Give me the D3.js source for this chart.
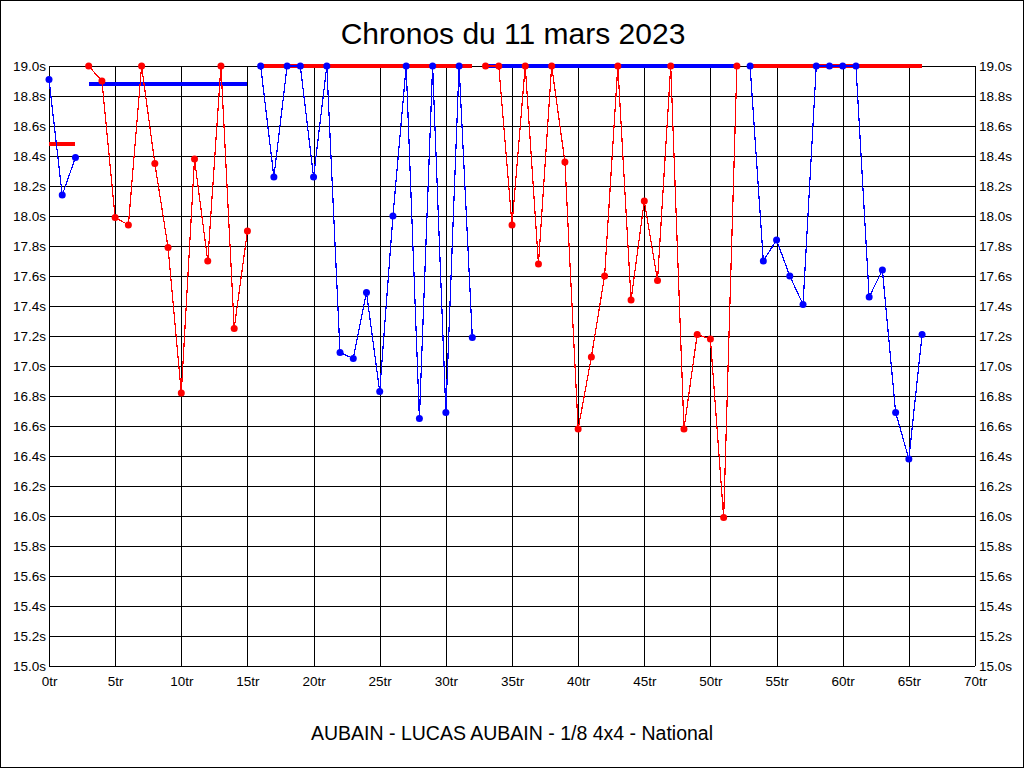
<!DOCTYPE html>
<html>
<head>
<meta charset="utf-8">
<script src="https://cdn.jsdelivr.net/npm/d3@7"></script>
<style>
  html, body { margin: 0; padding: 0; background: #fff; }
  svg { display: block; }
  text { font-family: "Liberation Sans", Arial, sans-serif; fill: #000; }
</style>
</head>
<body>
<svg id="chart" width="1024" height="768"></svg>
<script>
// ---- data ----
const title = "Chronos du 11 mars 2023";
const subtitle = "AUBAIN - LUCAS AUBAIN - 1/8 4x4 - National";

const xTicks = [0, 5, 10, 15, 20, 25, 30, 35, 40, 45, 50, 55, 60, 65, 70];
const yTicks = [15.0, 15.2, 15.4, 15.6, 15.8, 16.0, 16.2, 16.4, 16.6, 16.8, 17.0, 17.2, 17.4, 17.6, 17.8, 18.0, 18.2, 18.4, 18.6, 18.8, 19.0];

// segments: start lap, colour, lap times (values clipped at 19.0s)
const seg1Start = 0;
const seg1Color = "blue";
const seg1Times = [18.91, 18.14, 18.39];

const seg2Start = 3;
const seg2Color = "red";
const seg2Times = [19.0, 18.90, 17.99, 17.94, 19.0, 18.35, 17.79, 16.82, 18.38, 17.70, 19.0, 17.25, 17.90];

const seg3Start = 16;
const seg3Color = "blue";
const seg3Times = [19.0, 18.26, 19.0, 19.0, 18.26, 19.0, 17.09, 17.05, 17.49, 16.83, 18.0, 19.0, 16.65, 19.0, 16.69, 19.0, 17.19];

const seg4Start = 33;
const seg4Color = "red";
const seg4Times = [19.0, 19.0, 17.94, 19.0, 17.68, 19.0, 18.36, 16.58, 17.06, 17.60, 19.0, 17.44, 18.10, 17.57, 19.0, 16.58, 17.21, 17.18, 15.99, 19.0];

const seg5Start = 53;
const seg5Color = "blue";
const seg5Times = [19.0, 17.70, 17.84, 17.60, 17.41, 19.0, 19.0, 19.0, 19.0, 17.46, 17.64, 16.69, 16.38, 17.21];

// segment average lines (drawn in the other colour)
const avgColors = ["red", "blue", "red", "blue", "red"];
const avgValues = [18.48, 18.88, 19.0, 19.0, 19.0];

// ---- chart ----
const svg = d3.select("#chart");
const W = 1024, H = 768;
const mLeft = 49, mRight = 975, mTop = 66, mBottom = 666;

const x = d3.scaleLinear().domain([0, 70]).range([mLeft, mRight]);
const y = d3.scaleLinear().domain([15.0, 19.0]).range([mBottom, mTop]);

svg.append("rect").attr("x", 0.5).attr("y", 0.5).attr("width", W - 1).attr("height", H - 1)
  .attr("fill", "#fff").attr("stroke", "#000").attr("stroke-width", 1);

// grid
const g = svg.append("g").attr("shape-rendering", "crispEdges");
g.selectAll("line.h").data(yTicks).enter().append("line")
  .attr("x1", mLeft).attr("x2", mRight)
  .attr("y1", d => Math.round(y(d)) + 0.5).attr("y2", d => Math.round(y(d)) + 0.5)
  .attr("stroke", "#000").attr("stroke-width", 1);
g.selectAll("line.v").data(xTicks).enter().append("line")
  .attr("y1", mTop).attr("y2", mBottom)
  .attr("x1", d => Math.round(x(d)) + 0.5).attr("x2", d => Math.round(x(d)) + 0.5)
  .attr("stroke", "#000").attr("stroke-width", 1);

// axes labels via d3 axes (no tick lines)
const fmtY = d => d.toFixed(1) + "s";
const leftAxis = svg.append("g").attr("transform", `translate(${mLeft},0)`)
  .call(d3.axisLeft(y).tickValues(yTicks).tickFormat(fmtY).tickSize(0).tickPadding(3));
const rightAxis = svg.append("g").attr("transform", `translate(${mRight},0)`)
  .call(d3.axisRight(y).tickValues(yTicks).tickFormat(fmtY).tickSize(0).tickPadding(4));
const bottomAxis = svg.append("g").attr("transform", `translate(0,${mBottom})`)
  .call(d3.axisBottom(x).tickValues(xTicks).tickFormat(d => d + "tr").tickSize(0).tickPadding(10));
[leftAxis, rightAxis, bottomAxis].forEach(a => {
  a.select(".domain").remove();
  a.selectAll("text").style("font-family", '"Liberation Sans", Arial, sans-serif')
    .style("font-size", "13.5px").attr("fill", "#000");
});

// segments
const segments = [
  { start: seg1Start, color: seg1Color, times: seg1Times },
  { start: seg2Start, color: seg2Color, times: seg2Times },
  { start: seg3Start, color: seg3Color, times: seg3Times },
  { start: seg4Start, color: seg4Color, times: seg4Times },
  { start: seg5Start, color: seg5Color, times: seg5Times },
];

// average lines
segments.forEach((s, i) => {
  svg.append("line")
    .attr("x1", x(s.start)).attr("x2", x(s.start + s.times.length - 1))
    .attr("y1", y(avgValues[i])).attr("y2", y(avgValues[i]))
    .attr("stroke", avgColors[i]).attr("stroke-width", 3.5)
    .attr("shape-rendering", "crispEdges");
});

const line = d3.line().x(d => x(d.lap)).y(d => y(d.t));
segments.forEach(s => {
  const pts = s.times.map((t, i) => ({ lap: s.start + i, t }));
  svg.append("path").datum(pts)
    .attr("d", line).attr("fill", "none")
    .attr("stroke", s.color).attr("stroke-width", 1.2)
    .attr("shape-rendering", "crispEdges");
  svg.append("g").selectAll("circle").data(pts).enter().append("circle")
    .attr("cx", d => x(d.lap)).attr("cy", d => y(d.t)).attr("r", 3.5)
    .attr("fill", s.color);
});

// title & subtitle
svg.append("text").attr("x", 513).attr("y", 44).attr("text-anchor", "middle")
  .style("font-size", "30px").text(title);
svg.append("text").attr("x", 512).attr("y", 740).attr("text-anchor", "middle")
  .style("font-size", "19.5px").text(subtitle);
</script>
</body>
</html>
